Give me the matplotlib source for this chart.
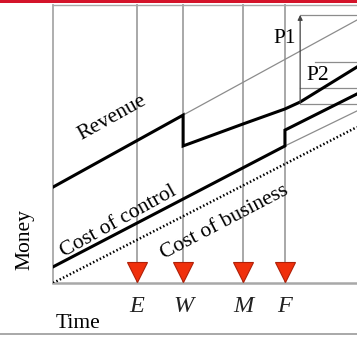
import matplotlib.pyplot as plt
from matplotlib.lines import Line2D
from matplotlib.patches import Rectangle

# time axis 0..100, money axis 0..100 (arbitrary units)
events = ["E", "W", "M", "F"]
event_t = [27.6, 42.8, 62.5, 76.3]

revenue_t = [0, 42.8, 42.8, 62.5, 76.3, 81.3, 100]
revenue_m = [34.5, 60.4, 49.3, 57.2, 62.6, 65.1, 77.7]
revenue_trend_t = [42.8, 100]
revenue_trend_m = [60.4, 94.6]

control_t = [0, 76.3, 76.3, 100]
control_m = [5.8, 49.3, 55.0, 68.0]
control_trend_t = [76.3, 100]
control_trend_m = [49.3, 61.9]

business_t = [0, 100]
business_m = [0, 56.1]

p1_t = 81.3
p1_range = [64.7, 96.4]
p_levels = [96.4, 79.5, 70.1, 64.4]
p_starts = [81.3, 86.2, 81.3, 81.3]

GRID = "#a8a8a8"
THIN = "#8c8c8c"
SERIF = "Liberation Serif"
FS = 15.5


def main():
    W, H = 357, 337
    fig = plt.figure(figsize=(W / 100, H / 100), dpi=100)
    ax = fig.add_axes([53 / W, 1 - 283 / H, 304 / W, 278 / H])
    ax.set_xlim(0, 100)
    ax.set_ylim(0, 100)
    ax.axis("off")

    # frame and event lines
    ax.plot([0, 0], [0, 100], color=GRID, lw=1.3, clip_on=False)
    ax.plot([0, 100], [0, 0], color=GRID, lw=1.8, clip_on=False)
    ax.plot([0, 100], [100, 100], color=GRID, lw=1.0, clip_on=False)
    for t in event_t:
        ax.plot([t, t], [0, 100], color=GRID, lw=1.4, clip_on=False)

    # trend extensions
    ax.plot(revenue_trend_t, revenue_trend_m, color=THIN, lw=0.9)
    ax.plot(control_trend_t, control_trend_m, color=THIN, lw=0.9)

    # P1 / P2 brackets
    for y, x0 in zip(p_levels, p_starts):
        ax.plot([x0, 100], [y, y], color=THIN, lw=0.9, clip_on=False)
    ax.annotate("", xy=(p1_t, p1_range[1]), xytext=(p1_t, p1_range[0]),
                arrowprops=dict(arrowstyle="-|>", color="#444444", lw=0.9,
                                mutation_scale=7, shrinkA=0, shrinkB=0))

    # main curves
    ax.plot(revenue_t, revenue_m, color="black", lw=2.2, solid_joinstyle="miter")
    ax.plot(control_t, control_m, color="black", lw=2.2, solid_joinstyle="miter")
    ax.plot(business_t, business_m, color="black", lw=1.8, ls=(0, (0.6, 0.9)))

    # event markers
    ax.plot(event_t, [4.0] * len(event_t), ls="none", marker="v", ms=14.5,
            mfc="#f0300c", mec="#b02008", mew=0.8, clip_on=False, zorder=5)
    for t, lab in zip(event_t, events):
        ax.text(t, -8.3, lab, ha="center", va="center", fontsize=17.5,
                family=SERIF, style="italic", color="#222222")

    ax.text(19.4, 59.4, "Revenue", rotation=29, rotation_mode="anchor",
            ha="center", va="center", fontsize=FS, family=SERIF)
    ax.text(21.4, 21.9, "Cost of control", rotation=29, rotation_mode="anchor",
            ha="center", va="center", fontsize=FS, family=SERIF)
    ax.text(56.3, 21.9, "Cost of business", rotation=27.6, rotation_mode="anchor",
            ha="center", va="center", fontsize=FS, family=SERIF)
    ax.text(76.3, 88.1, "P1", ha="center", va="center", fontsize=FS, family=SERIF)
    ax.text(87.2, 74.8, "P2", ha="center", va="center", fontsize=FS, family=SERIF)

    ax.text(8.2, -14.4, "Time", ha="center", va="center", fontsize=FS, family=SERIF)
    ax.text(-9.2, 15.8, "Money", rotation=90, ha="center", va="center",
            fontsize=FS, family=SERIF)

    # slide decorations
    fig.add_artist(Rectangle((0, 1 - 3 / H), 1, 3 / H, transform=fig.transFigure,
                             color="#d4142a", lw=0))
    fig.add_artist(Line2D([0, 1], [1 - 334 / H, 1 - 334 / H],
                          transform=fig.transFigure, color="#9a9a9a", lw=1.2))

    fig.savefig("out.png", dpi=100)
    plt.close(fig)


if __name__ == "__main__":
    main()
